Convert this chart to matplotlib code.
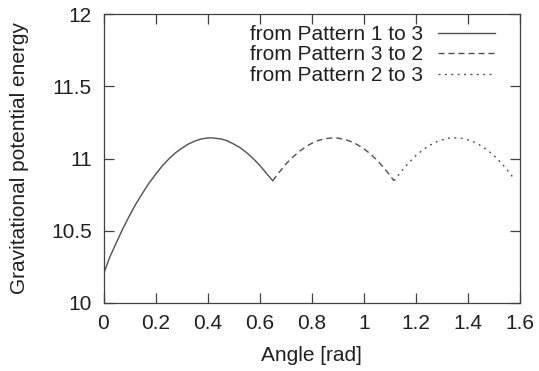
import matplotlib
matplotlib.use("Agg")
import matplotlib.pyplot as plt

# Data
x1 = [0.00, 0.025, 0.05, 0.075, 0.10, 0.125, 0.15, 0.175, 0.20, 0.225, 0.25, 0.275, 0.30,
      0.325, 0.35, 0.375, 0.40, 0.414, 0.45, 0.475, 0.50, 0.525, 0.55, 0.575, 0.60, 0.625, 0.65]
y1 = [10.20, 10.321, 10.42, 10.517, 10.605, 10.687, 10.76, 10.83, 10.89, 10.947, 10.995, 11.037, 11.07,
      11.099, 11.12, 11.135, 11.142, 11.143, 11.136, 11.123, 11.10, 11.075, 11.04, 11.00, 10.953, 10.899, 10.846]

x2 = [0.65, 0.675, 0.70, 0.725, 0.75, 0.775, 0.80, 0.825, 0.85, 0.883, 0.90, 0.925,
      0.95, 0.975, 1.00, 1.025, 1.05, 1.075, 1.10, 1.116]
y2 = [10.846, 10.905, 10.96, 11.006, 11.046, 11.079, 11.105, 11.125, 11.137, 11.143, 11.141, 11.133,
      11.118, 11.096, 11.068, 11.032, 10.99, 10.94, 10.884, 10.846]

x3 = [1.116, 1.15, 1.175, 1.20, 1.225, 1.25, 1.275, 1.30, 1.325, 1.35, 1.375, 1.40,
      1.425, 1.45, 1.475, 1.50, 1.525, 1.55, 1.58]
y3 = [10.846, 10.924, 10.975, 11.02, 11.057, 11.088, 11.112, 11.129, 11.14, 11.143, 11.14, 11.129,
      11.112, 11.088, 11.057, 11.02, 10.975, 10.924, 10.853]

labels = ["from Pattern 1 to 3", "from Pattern 3 to 2", "from Pattern 2 to 3"]
xticks = [0, 0.2, 0.4, 0.6, 0.8, 1.0, 1.2, 1.4, 1.6]
xticklabels = ["0", "0.2", "0.4", "0.6", "0.8", "1", "1.2", "1.4", "1.6"]
yticks = [10, 10.5, 11, 11.5, 12]
yticklabels = ["10", "10.5", "11", "11.5", "12"]

plt.rcParams['font.family'] = ['Liberation Sans', 'DejaVu Sans']
FS = 15
fig = plt.figure(figsize=(5.39, 3.71), dpi=100)
L, R, T, B = 103.5, 520.0, 14.0, 303.0
ax = fig.add_axes([L/539, 1 - B/371, (R - L)/539, (B - T)/371])

lc = "#505050"
ax.plot(x1, y1, color=lc, lw=1.0, ls='-', label=labels[0])
ax.plot(x2, y2, color=lc, lw=1.0, ls=(0, (4.3, 2.9)), label=labels[1])
ax.plot(x3, y3, color=lc, lw=1.0, ls=(0, (1.4, 3.2)), label=labels[2])

ax.set_xlim(0, 1.6)
ax.set_ylim(10, 12)
ax.set_xticks(xticks)
ax.set_xticklabels(xticklabels)
ax.set_yticks(yticks)
ax.set_yticklabels(yticklabels)
ax.tick_params(direction='in', length=7.5, width=0.9, color="#404040",
               top=True, right=True, labelsize=FS, colors="#202020")
ax.tick_params(axis='x', pad=8)
ax.tick_params(axis='y', pad=8.5)
for s in ax.spines.values():
    s.set_color("#404040")
    s.set_linewidth(0.9)

ax.set_xlabel("Angle [rad]", fontsize=FS, color="#202020")
ax.set_ylabel("Gravitational potential energy", fontsize=FS, color="#202020")
ax.xaxis.set_label_coords(0.5, (B - 346) / (B - T))
ax.yaxis.set_label_coords((29 - L) / (R - L), 0.5)

leg = ax.legend(loc='upper right', bbox_to_anchor=(495/539, 1 - 25/371),
                bbox_transform=fig.transFigure, frameon=False, markerfirst=False,
                fontsize=FS, handlelength=2.76, handletextpad=0.68,
                labelspacing=0.07, borderaxespad=0, borderpad=0)
for t in leg.get_texts():
    t.set_color("#202020")

fig.savefig("out.png", dpi=100)
